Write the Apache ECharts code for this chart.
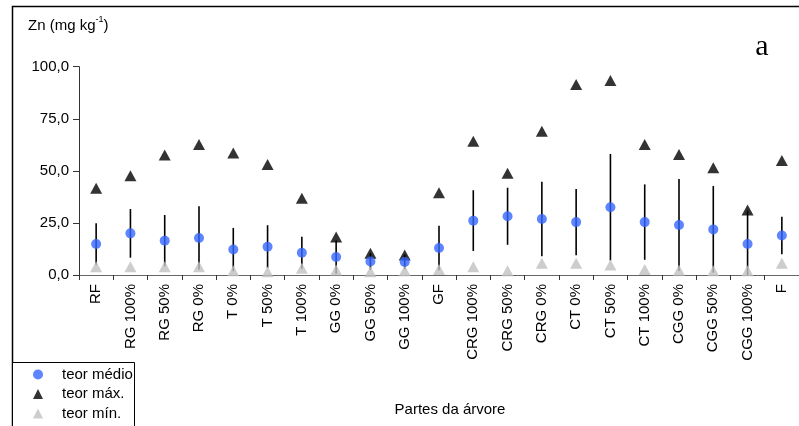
<!DOCTYPE html>
<html>
<head>
<meta charset="utf-8">
<script src="https://cdn.jsdelivr.net/npm/echarts@6/dist/echarts.min.js"></script>
<style>html,body{margin:0;padding:0;background:#fff}#c{width:799px;height:426px}</style>
</head>
<body>
<div id="c"></div>
<script>
const categories = ['RF','RG 100%','RG 50%','RG 0%','T 0%','T 50%','T 100%','GG 0%','GG 50%','GG 100%','GF','CRG 100%','CRG 50%','CRG 0%','CT 0%','CT 50%','CT 100%','CGG 0%','CGG 50%','CGG 100%','F'];
const teorMedio = [14.9, 20.0, 16.5, 17.8, 12.2, 13.6, 10.7, 8.6, 6.5, 6.3, 13.0, 26.1, 28.2, 26.9, 25.4, 32.5, 25.4, 24.0, 21.9, 14.9, 19.0];
const desvio    = [10.0, 11.7, 12.3, 15.2, 10.4, 10.3, 7.7, 8.0, 4.0, 3.5, 10.7, 14.6, 13.7, 17.9, 15.9, 25.6, 18.1, 22.1, 20.8, 16.0, 9.0];
const teorMax   = [41.6, 47.7, 57.6, 62.7, 58.6, 53.0, 36.8, 18.2, 10.4, 9.6, 39.5, 64.2, 48.8, 69.0, 91.4, 93.4, 62.7, 57.8, 51.5, 31.2, 55.0];
const teorMin   = [4.0, 4.0, 4.0, 4.0, 2.1, 1.6, 3.2, 2.4, 1.6, 2.0, 2.7, 4.0, 2.1, 5.6, 5.6, 4.8, 2.7, 2.3, 2.1, 2.1, 5.6];
const yTicks = [0, 25, 50, 75, 100];

const errData = teorMedio.map((m, i) => [i, Math.max(0, m - desvio[i]), m + desvio[i]]);

const chart = echarts.init(document.getElementById('c'), null, {renderer: 'canvas'});
const FONT = 'Liberation Sans, Arial, sans-serif';
chart.setOption({
  animation: false,
  backgroundColor: '#fff',
  grid: {left: 79, top: 66.7, bottom: 151, right: -7.3, containLabel: false},
  xAxis: {
    type: 'category', data: categories, boundaryGap: true,
    axisLine: {lineStyle: {color: '#666', width: 1}},
    axisTick: {show: true, length: 5, alignWithLabel: false, lineStyle: {color: '#333'}},
    axisLabel: {rotate: 90, interval: 0, margin: 9, fontSize: 15, color: '#000', fontFamily: FONT},
    splitLine: {show: false}
  },
  yAxis: {
    type: 'value', min: yTicks[0], max: yTicks[yTicks.length - 1], interval: 25,
    axisLine: {show: true, lineStyle: {color: '#333', width: 1}},
    axisTick: {show: true, length: 6, inside: false, lineStyle: {color: '#333'}},
    axisLabel: {margin: 10, fontSize: 15, color: '#000', fontFamily: FONT,
      formatter: v => v.toFixed(1).replace('.', ',')},
    splitLine: {show: false}
  },
  legend: {
    orient: 'vertical', left: 33, top: 367, itemWidth: 10, itemHeight: 10, itemGap: 4.5,
    data: ['teor médio', 'teor máx.', 'teor mín.'],
    textStyle: {fontSize: 15, lineHeight: 14, color: '#000', fontFamily: FONT, padding: [0, 0, 0, 14]},
    padding: 0
  },
  graphic: [
    {type: 'rect', shape: {x: 12.5, y: 6.5, width: 800, height: 430}, style: {fill: 'none', stroke: '#000', lineWidth: 1.5}, z: -1, silent: true},
    {type: 'rect', shape: {x: 12.5, y: 362.5, width: 122, height: 80}, style: {fill: '#fff', stroke: '#000', lineWidth: 1}, z: 0, silent: true},
    {type: 'text', left: 28, top: 15, style: {
      text: '{n|Zn (mg kg}{s|-1}{n|)}',
      rich: {n: {fontSize: 15, fontFamily: FONT, fill: '#000', lineHeight: 18, verticalAlign: 'bottom'},
             s: {fontSize: 9, fontFamily: FONT, fill: '#000', lineHeight: 18, verticalAlign: 'top', padding: [0,0,8,0]}}
    }},
    {type: 'text', x: 762, y: 47, style: {text: 'a', font: '30px "Liberation Serif", "Times New Roman", serif', fill: '#000', textAlign: 'center', textVerticalAlign: 'middle'}},
    {type: 'text', x: 450, y: 410, style: {text: 'Partes da árvore', font: '15px "Liberation Sans", Arial, sans-serif', fill: '#000', textAlign: 'center', textVerticalAlign: 'middle'}}
  ],
  series: [
    {
      type: 'custom', name: 'erro', z: 1, data: errData,
      renderItem: function (params, api) {
        const x = api.value(0);
        const p1 = api.coord([x, api.value(1)]);
        const p2 = api.coord([x, api.value(2)]);
        return {type: 'line', shape: {x1: p1[0], y1: p1[1], x2: p2[0], y2: p2[1]}, style: {stroke: '#000', lineWidth: 1.6}};
      }
    },
    {type: 'scatter', name: 'teor mín.', data: teorMin, symbol: 'triangle', symbolSize: [12, 11], itemStyle: {color: '#c0c0c0'}, z: 3},
    {type: 'scatter', name: 'teor máx.', data: teorMax, symbol: 'triangle', symbolSize: [12, 11], itemStyle: {color: '#000'}, z: 3},
    {type: 'scatter', name: 'teor médio', data: teorMedio, symbol: 'circle', symbolSize: 10, itemStyle: {color: '#3366ff'}, z: 4}
  ]
});
</script>
</body>
</html>
